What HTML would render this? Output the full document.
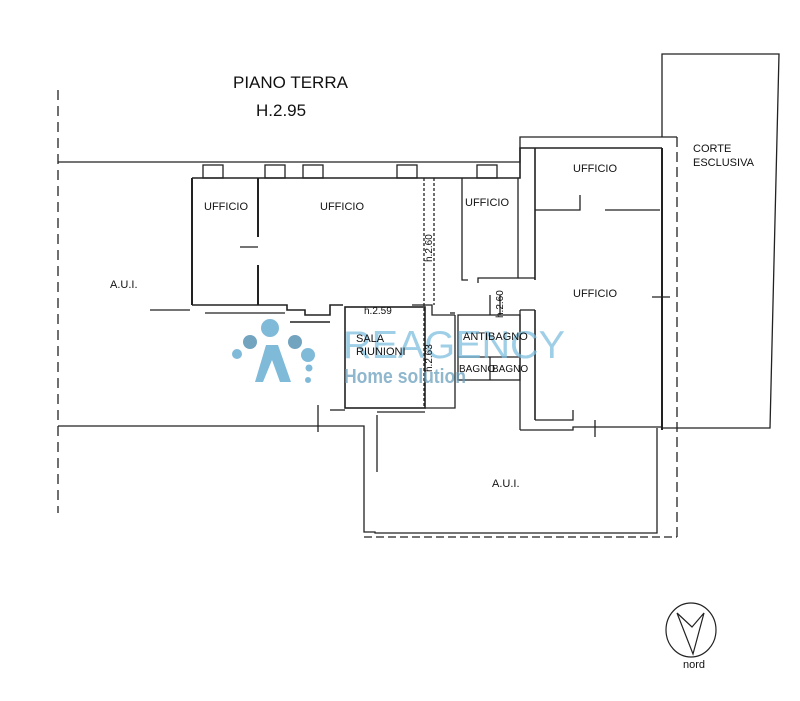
<!DOCTYPE html>
<html><head><meta charset="utf-8"><style>
html,body{margin:0;padding:0;background:#fff;}
svg{display:block}
text{font-family:"Liberation Sans",sans-serif;fill:#111}
</style></head><body>
<svg width="800" height="701" viewBox="0 0 800 701" xmlns="http://www.w3.org/2000/svg">
<rect width="800" height="701" fill="#fff"/>
<g stroke="#222" fill="none" stroke-width="1.3">
<line x1="58" y1="90" x2="58" y2="513" stroke-dasharray="10,6"/>
<polyline points="58,162 520,162 520,137 677,137"/>
<line x1="677" y1="137" x2="677" y2="537" stroke-dasharray="10,5"/>
<line x1="364" y1="537" x2="677" y2="537" stroke-dasharray="8,4"/>
<polyline points="662,137 662,54 779,54 770,428 662,428"/>
<polyline points="192,178 520,178 520,148 662,148" stroke-width="1.6"/>
<line x1="662" y1="148" x2="662" y2="430" stroke-width="2"/>
<rect x="203" y="165" width="20" height="13"/><rect x="265" y="165" width="20" height="13"/>
<rect x="303" y="165" width="20" height="13"/><rect x="397" y="165" width="20" height="13"/>
<rect x="477" y="165" width="20" height="13"/>
<line x1="192" y1="178" x2="192" y2="305" stroke-width="2"/>
<line x1="258" y1="178" x2="258" y2="237" stroke-width="2"/>
<line x1="240" y1="247" x2="258" y2="247"/>
<line x1="258" y1="265" x2="258" y2="305" stroke-width="2"/>
<polyline points="192,305 287,305 287,310 305,310 305,315 330,315 330,305 343,305" stroke-width="1.6"/>
<line x1="150" y1="310" x2="190" y2="310"/>
<line x1="205" y1="313" x2="285" y2="313"/>
<line x1="290" y1="322" x2="330" y2="322" stroke-width="1.6"/>
<line x1="424" y1="178" x2="424" y2="408" stroke-dasharray="3,2"/>
<line x1="434" y1="178" x2="434" y2="305" stroke-dasharray="3,2"/>
<polyline points="412,305 432,305 432,315 455,315"/>
<polyline points="462,178 462,280 468,280"/>
<polyline points="478,283 478,278 518,278 518,178"/>
<line x1="535" y1="148" x2="535" y2="280" stroke-width="1.6"/>
<polyline points="518,278 535,278"/>
<polyline points="535,210 580,210 580,195"/>
<line x1="605" y1="210" x2="660" y2="210"/>
<line x1="535" y1="310" x2="535" y2="420" stroke-width="1.6"/>
<polyline points="535,420 573,420 573,410"/>
<polyline points="520,430 573,430 573,427 662,427"/>
<line x1="595" y1="420" x2="595" y2="437"/>
<line x1="652" y1="297" x2="670" y2="297"/>
<rect x="345" y="307" width="80" height="101" stroke-width="1.6"/>
<polyline points="425,408 455,408 455,315"/>
<line x1="450" y1="313" x2="455" y2="313"/>
<rect x="458" y="315" width="62" height="65"/>
<line x1="458" y1="357" x2="520" y2="357"/>
<line x1="490" y1="357" x2="490" y2="380"/>
<line x1="490" y1="295" x2="490" y2="315"/>
<line x1="500" y1="295" x2="500" y2="315"/>
<line x1="520" y1="310" x2="535" y2="310"/>
<line x1="520" y1="310" x2="520" y2="430"/>
<polyline points="58,426 364,426 364,532 375,532 375,533 657,533 657,428"/>
<line x1="318" y1="405" x2="318" y2="432"/>
<polyline points="330,410 345,410"/>
<line x1="377" y1="415" x2="377" y2="472"/>
<polyline points="377,412 395,412 425,412"/>
</g>
<!-- watermark -->
<g fill="#6aaed3" opacity="0.85">
<circle cx="270" cy="328" r="9"/>
<circle cx="250" cy="342" r="7" fill="#5a94b5"/>
<circle cx="295" cy="342" r="7" fill="#5a94b5"/>
<circle cx="237" cy="354" r="5"/>
<circle cx="308" cy="355" r="7"/>
<circle cx="309" cy="368" r="3.5"/>
<circle cx="308" cy="380" r="3"/>
<path d="M255,382 L266,345 L278,345 L291,382 L280,382 L272,360 L263,382Z"/>
</g>
<text x="343" y="358" font-size="39" textLength="222" lengthAdjust="spacingAndGlyphs" style="fill:#7fbfdf" opacity="0.75">REAGENCY</text>
<text x="344" y="383" font-size="20" font-weight="bold" textLength="122" lengthAdjust="spacingAndGlyphs" style="fill:#6a9fbd" opacity="0.75">Home solution</text>
<text x="233" y="88" font-size="17">PIANO TERRA</text>
<text x="256" y="116" font-size="17">H.2.95</text>
<g font-size="11">
<text x="204" y="210">UFFICIO</text>
<text x="320" y="210">UFFICIO</text>
<text x="465" y="206">UFFICIO</text>
<text x="573" y="172">UFFICIO</text>
<text x="573" y="297">UFFICIO</text>
<text x="110" y="288">A.U.I.</text>
<text x="492" y="487">A.U.I.</text>
<text x="693" y="152">CORTE</text>
<text x="693" y="166">ESCLUSIVA</text>
<text x="356" y="342">SALA</text>
<text x="356" y="355">RIUNIONI</text>
<text x="463" y="340">ANTIBAGNO</text>
<text x="459" y="372" font-size="10">BAGNO</text>
<text x="492" y="372" font-size="10">BAGNO</text>
<text x="364" y="314" font-size="10">h.2.59</text>
<text transform="translate(432,262) rotate(-90)" font-size="10">h.2.60</text>
<text transform="translate(503,318) rotate(-90)" font-size="10">h.2.60</text>
<text transform="translate(432,372) rotate(-90)" font-size="10">h.2.63</text>
</g>
<ellipse cx="691" cy="630" rx="25" ry="27" fill="none" stroke="#222" stroke-width="1.2"/>
<polyline points="677,613 692,627 704,613 693,654 677,613" fill="none" stroke="#222" stroke-width="1.2"/>
<text x="683" y="668" font-size="11">nord</text>
</svg>
</body></html>
